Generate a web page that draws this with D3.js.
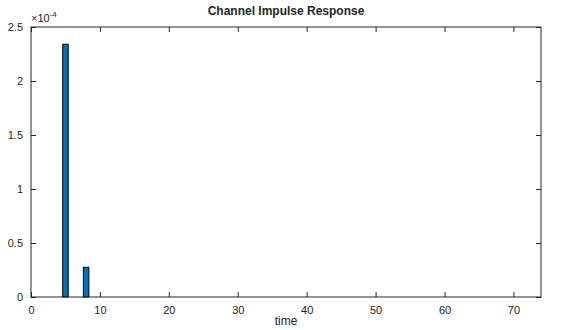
<!DOCTYPE html>
<html>
<head>
<meta charset="utf-8">
<script src="https://cdn.jsdelivr.net/npm/d3@7"></script>
<style>
body { margin: 0; background: #fff; }
text { font-family: "Liberation Sans", Arial, sans-serif; fill: #262626; }
</style>
</head>
<body>
<script>
// impulse response taps, index 1..73 (units of 1e-4)
let taps = [];
for (let i = 1; i <= 73; i++) taps.push({t: i, v: 0});
let nonZero = [{t: 5, v: 2.34}, {t: 8, v: 0.275}];
nonZero.forEach(function(d){ taps[d.t - 1].v = d.v; });

let xTicks = [0, 10, 20, 30, 40, 50, 60, 70];
let yTicks = [0, 0.5, 1, 1.5, 2, 2.5];

let W = 561, H = 330;
let margin = {left: 31, right: 20, top: 27, bottom: 33};
let width = W - margin.left - margin.right;
let height = H - margin.top - margin.bottom;

let svg = d3.select("body").append("svg").attr("width", W).attr("height", H);
let g = svg.append("g").attr("transform", "translate(" + margin.left + "," + margin.top + ")");

let x = d3.scaleLinear().domain([0, 74]).range([0, width]);
let y = d3.scaleLinear().domain([0, 2.5]).range([height, 0]);
let bw = x(0.8) - x(0);

g.selectAll("rect.bar").data(taps).enter().append("rect")
    .attr("class", "bar")
    .attr("x", function(d){ return x(d.t) - bw / 2; })
    .attr("width", bw)
    .attr("y", function(d){ return y(d.v); })
    .attr("height", function(d){ return y(0) - y(d.v); })
    .attr("fill", "#0072BD")
    .attr("stroke", "#000")
    .attr("stroke-width", 1);

// box
g.append("rect").attr("x", 0).attr("y", 0).attr("width", width).attr("height", height)
    .attr("fill", "none").attr("stroke", "#262626").attr("stroke-width", 1);

let tl = 5;
g.append("g").attr("transform", "translate(0," + height + ")")
    .call(d3.axisBottom(x).tickValues(xTicks).tickSize(-tl).tickPadding(tl + 4))
    .call(function(a){ a.select(".domain").remove(); });
g.append("g")
    .call(d3.axisTop(x).tickValues(xTicks).tickSize(-tl).tickFormat(""))
    .call(function(a){ a.select(".domain").remove(); });
g.append("g")
    .call(d3.axisLeft(y).tickValues(yTicks).tickSize(-tl).tickPadding(tl + 3).tickFormat(d3.format("~g")))
    .call(function(a){ a.select(".domain").remove(); });
g.append("g").attr("transform", "translate(" + width + ",0)")
    .call(d3.axisRight(y).tickValues(yTicks).tickSize(-tl).tickFormat(""))
    .call(function(a){ a.select(".domain").remove(); });

g.selectAll(".tick line").attr("stroke", "#262626");
g.selectAll(".tick text").style("font-size", "11px").attr("fill", "#262626");

// exponent
let ex = svg.append("text").attr("x", margin.left).attr("y", margin.top - 5)
    .style("font-size", "11px");
ex.append("tspan").text("\u00d710");
ex.append("tspan").attr("dy", -5).style("font-size", "8px").text("-4");

svg.append("text").attr("x", margin.left + width / 2).attr("y", 15)
    .attr("text-anchor", "middle").style("font-size", "12px").style("font-weight", "bold")
    .text("Channel Impulse Response");

svg.append("text").attr("x", margin.left + width / 2).attr("y", 325)
    .attr("text-anchor", "middle").style("font-size", "12px")
    .text("time");
</script>
</body>
</html>
